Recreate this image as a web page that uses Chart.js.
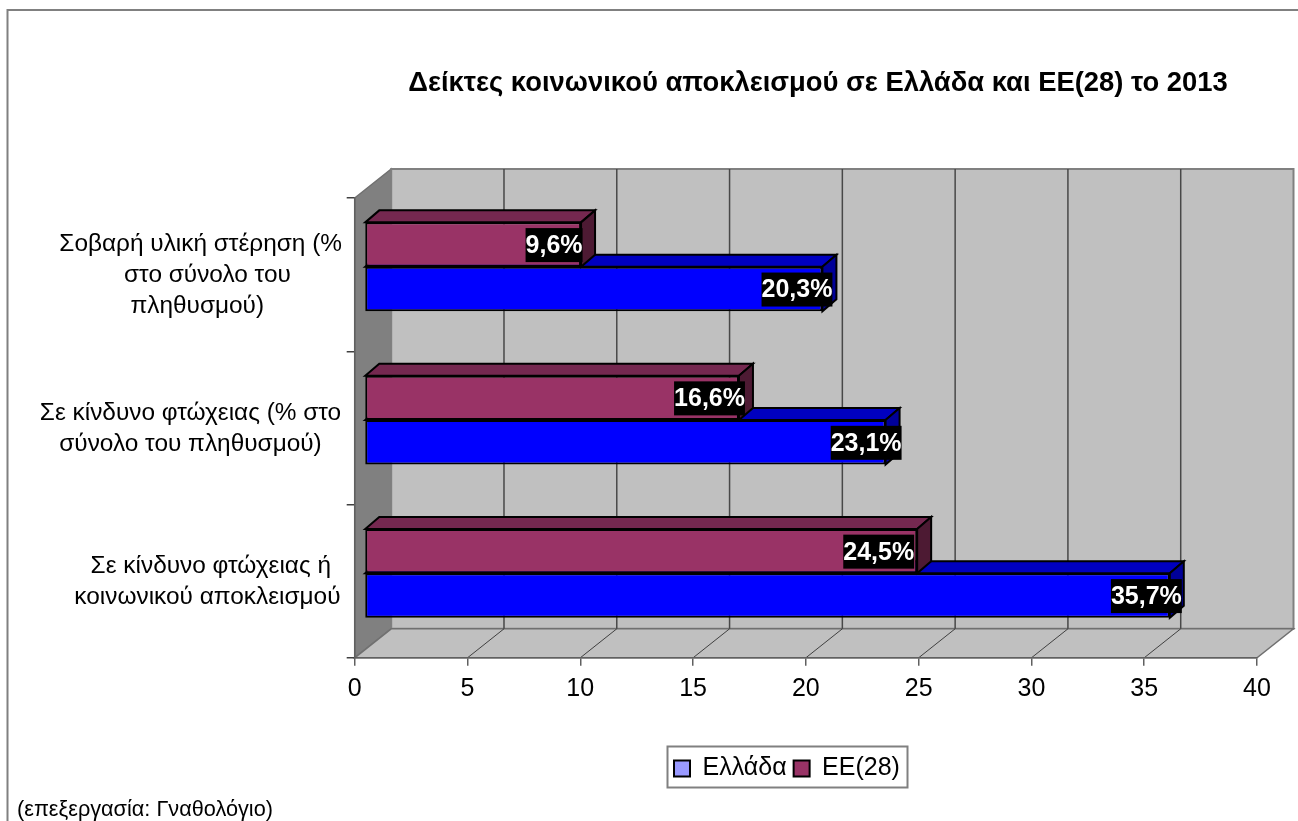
<!DOCTYPE html>
<html><head><meta charset="utf-8">
<style>html,body{margin:0;padding:0;background:#fff}canvas{display:block}</style>
<script src="https://cdn.jsdelivr.net/npm/chart.js@4"></script>
</head><body><canvas id="c" width="1298" height="821"></canvas>
<script>
const categories = [
  ["      Σε κίνδυνο φτώχειας ή", "     κοινωνικού αποκλεισμού"],
  ["Σε κίνδυνο φτώχειας (% στο", "σύνολο του πληθυσμού)"],
  ["   Σοβαρή υλική στέρηση (%", "     στο σύνολο του", "  πληθυσμού)"]
];
const greeceValues = [35.7, 23.1, 20.3];
const euValues = [24.5, 16.6, 9.6];
const seriesNames = ["Ελλάδα", "ΕΕ(28)"];
const xTicks = [0, 5, 10, 15, 20, 25, 30, 35, 40];
const chartTitle = "Δείκτες κοινωνικού αποκλεισμού σε Ελλάδα και ΕΕ(28) το 2013";
const sourceNote = "(επεξεργασία: Γναθολόγιο)";

const FONT = '"Liberation Sans", Arial, sans-serif';
const WALL = {dx: 36.5, dy: -29};
const BAR_SHIFT = {dx: 9.8, dy: -7.8};
const BAR_DEPTH = {dx: 14, dy: -12};
// index 0 = ΕΕ(28) (upper bar), index 1 = Ελλάδα (lower bar)
const looks = [
  {top: '#752850', side: '#4D1A33', legend: '#993366'},
  {top: '#0000C0', side: '#000099', legend: '#9999FF'}
];
const labelNudge = [[-3, 6, 1.5], [12, 16, 10]];

function poly(ctx, pts, fill, stroke, lw) {
  ctx.beginPath();
  pts.forEach((p, i) => i ? ctx.lineTo(p[0], p[1]) : ctx.moveTo(p[0], p[1]));
  ctx.closePath();
  if (fill) { ctx.fillStyle = fill; ctx.fill(); }
  if (stroke) { ctx.strokeStyle = stroke; ctx.lineWidth = lw; ctx.lineJoin = 'miter'; ctx.stroke(); }
}

const scene = {
  id: 'scene',
  afterLayout(chart) {
    const t = chart.titleBlock, l = chart.legend;
    t.left = 0; t.right = 1636;
    l.left = 667; l.right = 960; l.top = 749; l.bottom = 788;
  },
  beforeDraw(chart) {
    const {ctx, chartArea: a, scales: {x}} = chart;
    const d = WALL;
    ctx.save();
    ctx.strokeStyle = '#808080'; ctx.lineWidth = 2;
    ctx.beginPath(); ctx.moveTo(7.5, 821); ctx.lineTo(7.5, 10); ctx.lineTo(1298, 10); ctx.stroke();
    poly(ctx, [[a.left, a.top], [a.left + d.dx, a.top + d.dy], [a.left + d.dx, a.bottom + d.dy], [a.left, a.bottom]], '#808080', '#707070', 1.5);
    poly(ctx, [[a.left + d.dx, a.top + d.dy], [a.right + d.dx, a.top + d.dy], [a.right + d.dx, a.bottom + d.dy], [a.left + d.dx, a.bottom + d.dy]], '#C0C0C0', '#808080', 2);
    poly(ctx, [[a.left, a.bottom], [a.left + d.dx, a.bottom + d.dy], [a.right + d.dx, a.bottom + d.dy], [a.right, a.bottom]], '#C0C0C0', '#707070', 1.5);
    x.ticks.forEach(tk => {
      const px = x.getPixelForValue(tk.value);
      if (tk.value === x.min || tk.value === x.max) return;
      ctx.strokeStyle = '#484848'; ctx.lineWidth = 1.5;
      ctx.beginPath(); ctx.moveTo(px + d.dx, a.top + d.dy); ctx.lineTo(px + d.dx, a.bottom + d.dy); ctx.stroke();
      ctx.strokeStyle = '#404040'; ctx.lineWidth = 1;
      ctx.beginPath(); ctx.moveTo(px, a.bottom); ctx.lineTo(px + d.dx, a.bottom + d.dy); ctx.stroke();
    });
    ctx.restore();
  },
  beforeDatasetsDraw(chart) {
    const {ctx} = chart;
    ctx.save();
    ctx.translate(BAR_SHIFT.dx, BAR_SHIFT.dy);
    const e = BAR_DEPTH;
    for (let i = chart.data.datasets.length - 1; i >= 0; i--) {
      chart.getDatasetMeta(i).data.forEach(b => {
        const l = b.base, r = b.x, t = b.y - b.height / 2, bt = b.y + b.height / 2;
        poly(ctx, [[l, t], [l + e.dx, t + e.dy], [r + e.dx, t + e.dy], [r, t]], looks[i].top, '#000', 2);
        poly(ctx, [[r, t], [r + e.dx, t + e.dy], [r + e.dx, bt + e.dy], [r, bt]], looks[i].side, '#000', 2);
      });
    }
  },
  afterDatasetsDraw(chart) {
    const {ctx} = chart;
    ctx.font = 'bold 25px ' + FONT;
    ctx.textAlign = 'center'; ctx.textBaseline = 'middle';
    chart.data.datasets.forEach((ds, i) => {
      chart.getDatasetMeta(i).data.forEach((b, j) => {
        const txt = ds.data[j].toFixed(1).replace('.', ',') + '%';
        const w = ctx.measureText(txt).width;
        const cx = b.x - w / 2 + labelNudge[i][j], cy = b.y + 0.5;
        ctx.fillStyle = '#000';
        ctx.fillRect(cx - w / 2, cy - 17, w, 34);
        ctx.fillStyle = '#fff';
        ctx.fillText(txt, cx, cy + 1);
      });
    });
    ctx.restore();
  },
  afterDraw(chart) {
    const {ctx} = chart;
    ctx.save();
    ctx.strokeStyle = '#808080'; ctx.lineWidth = 2;
    ctx.strokeRect(667.5, 746.5, 240, 41);
    ctx.fillStyle = '#000';
    ctx.font = '21.7px ' + FONT;
    ctx.textAlign = 'left'; ctx.textBaseline = 'alphabetic';
    ctx.fillText(sourceNote, 17, 816);
    ctx.restore();
  }
};

new Chart(document.getElementById('c'), {
  type: 'bar',
  data: {
    labels: categories,
    datasets: [
      {label: seriesNames[1], data: euValues, backgroundColor: '#993366', borderColor: '#000', borderWidth: 2, borderSkipped: false},
      {label: seriesNames[0], data: greeceValues, backgroundColor: '#0000FF', borderColor: '#000', borderWidth: 2, borderSkipped: false}
    ]
  },
  options: {
    indexAxis: 'y',
    responsive: false,
    animation: false,
    devicePixelRatio: 1,
    categoryPercentage: 0.58,
    barPercentage: 1,
    layout: {padding: {left: 0, right: 41, top: 0, bottom: 33}},
    scales: {
      x: {
        min: 0, max: 40,
        afterBuildTicks(s) { s.ticks = xTicks.map(v => ({value: v})); },
        afterFit(s) { s.height = 88.2; },
        border: {color: '#606060', width: 1.5},
        grid: {drawOnChartArea: false, drawTicks: true, tickLength: 8, color: '#606060', lineWidth: 1.5},
        ticks: {color: '#000', font: {family: FONT, size: 25}, padding: 8, maxRotation: 0, autoSkip: false}
      },
      y: {
        reverse: true,
        afterFit(s) { s.width = 354.7; },
        border: {color: '#606060', width: 1.5},
        grid: {drawOnChartArea: false, drawTicks: true, tickLength: 8, color: '#404040', lineWidth: 1.5},
        ticks: {color: '#000', font: {family: FONT, size: 24.4, lineHeight: 31 / 24.4}, padding: 4.7, labelOffset: 1, crossAlign: 'center', autoSkip: false}
      }
    },
    plugins: {
      title: {display: true, text: chartTitle, color: '#000', font: {family: FONT, size: 27.4, weight: 'bold', lineHeight: 1.2}, padding: {top: 67, bottom: 98.1}},
      legend: {
        display: true, position: 'bottom', align: 'start',
        labels: {
          color: '#000', boxWidth: 16, boxHeight: 16, padding: 7,
          font: {family: FONT, size: 25, lineHeight: 22 / 25},
          generateLabels(chart) {
            return chart.data.datasets.map((ds, i) => ({
              text: ds.label, fillStyle: looks[i].legend, strokeStyle: '#000', lineWidth: 2, datasetIndex: i, hidden: false
            })).reverse();
          }
        }
      },
      tooltip: {enabled: false}
    }
  },
  plugins: [scene]
});
</script></body></html>
